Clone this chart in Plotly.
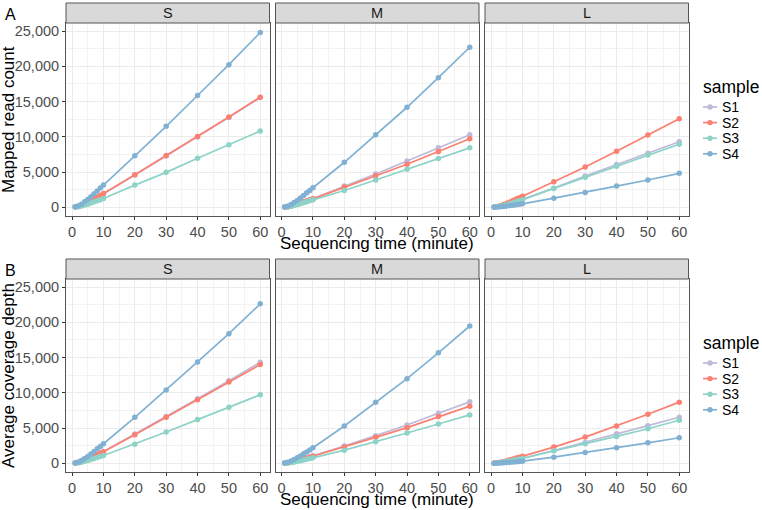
import plotly.graph_objects as go

W, H = 762, 510

time_min = [1, 2, 3, 4, 5, 6, 7, 8, 9, 10, 20, 30, 40, 50, 60]
samples = ["S1", "S2", "S3", "S4"]
facets = ["S", "M", "L"]
colors = {"S1": "#BEBADA", "S2": "#FB8072", "S3": "#8DD3C7", "S4": "#80B1D3"}
y_ticks = [0, 5000, 10000, 15000, 20000, 25000]
y_tick_labels = ["0", "5,000", "10,000", "15,000", "20,000", "25,000"]
x_ticks = [0, 10, 20, 30, 40, 50, 60]

# ---- Panel A: mapped read count ----
reads_S_S1 = [35, 115, 260, 450, 660, 910, 1150, 1400, 1640, 1900, 4560, 7260, 9980, 12750, 15560]
reads_S_S2 = [40, 120, 270, 470, 680, 940, 1190, 1440, 1680, 1950, 4620, 7330, 10050, 12810, 15620]
reads_S_S3 = [25, 75, 170, 300, 430, 600, 760, 920, 1070, 1240, 3140, 4950, 6950, 8860, 10810]
reads_S_S4 = [60, 200, 440, 760, 1100, 1500, 1900, 2320, 2720, 3140, 7290, 11480, 15860, 20240, 24800]

reads_M_S1 = [25, 75, 170, 300, 430, 600, 760, 920, 1070, 1240, 3000, 4710, 6570, 8430, 10290]
reads_M_S2 = [24, 72, 165, 285, 415, 570, 725, 880, 1030, 1190, 2860, 4480, 6100, 7900, 9710]
reads_M_S3 = [20, 63, 145, 250, 370, 500, 640, 780, 910, 1050, 2380, 3860, 5380, 6900, 8430]
reads_M_S4 = [50, 170, 390, 670, 970, 1320, 1680, 2040, 2380, 2760, 6380, 10290, 14190, 18380, 22710]

reads_L_S1 = [23, 70, 160, 275, 400, 550, 700, 840, 980, 1140, 2710, 4430, 6050, 7670, 9290]
reads_L_S2 = [30, 95, 220, 380, 550, 750, 960, 1160, 1350, 1570, 3620, 5710, 7950, 10240, 12570]
reads_L_S3 = [21, 63, 147, 252, 368, 504, 640, 777, 903, 1050, 2670, 4240, 5810, 7430, 8950]
reads_L_S4 = [10, 30, 67, 115, 168, 230, 294, 355, 413, 480, 1290, 2100, 3000, 3860, 4810]

# ---- Panel B: average coverage depth ----
depth_S_S1 = [33, 100, 235, 400, 585, 800, 1020, 1230, 1440, 1670, 4140, 6620, 9140, 11710, 14330]
depth_S_S2 = [32, 97, 227, 390, 567, 780, 990, 1200, 1400, 1620, 4050, 6520, 9000, 11520, 14000]
depth_S_S3 = [22, 66, 154, 264, 385, 528, 670, 814, 946, 1100, 2710, 4430, 6190, 7950, 9710]
depth_S_S4 = [50, 170, 390, 670, 970, 1320, 1680, 2040, 2380, 2760, 6520, 10380, 14380, 18380, 22620]

depth_M_S1 = [21, 63, 147, 252, 368, 504, 640, 777, 903, 1050, 2430, 3900, 5430, 7100, 8710]
depth_M_S2 = [20, 60, 140, 240, 350, 480, 610, 740, 860, 1000, 2290, 3670, 5050, 6620, 8100]
depth_M_S3 = [15, 46, 106, 182, 266, 365, 464, 562, 654, 760, 1860, 3050, 4290, 5570, 6860]
depth_M_S4 = [44, 130, 300, 520, 760, 1040, 1330, 1610, 1890, 2190, 5290, 8670, 12000, 15670, 19480]

depth_L_S1 = [14, 43, 99, 170, 250, 340, 433, 525, 610, 710, 1810, 2950, 4190, 5330, 6520]
depth_L_S2 = [20, 60, 140, 240, 350, 480, 610, 740, 860, 1000, 2290, 3710, 5290, 6950, 8670]
depth_L_S3 = [13, 40, 94, 160, 235, 322, 409, 496, 576, 670, 1760, 2760, 3810, 4900, 6100]
depth_L_S4 = [6, 17, 41, 70, 102, 139, 177, 215, 249, 290, 860, 1520, 2190, 2900, 3620]

rows_data = [
    {"S": [reads_S_S1, reads_S_S2, reads_S_S3, reads_S_S4],
     "M": [reads_M_S1, reads_M_S2, reads_M_S3, reads_M_S4],
     "L": [reads_L_S1, reads_L_S2, reads_L_S3, reads_L_S4]},
    {"S": [depth_S_S1, depth_S_S2, depth_S_S3, depth_S_S4],
     "M": [depth_M_S1, depth_M_S2, depth_M_S3, depth_M_S4],
     "L": [depth_L_S1, depth_L_S2, depth_L_S3, depth_L_S4]},
]
row_titles = ["Mapped read count", "Average coverage depth"]
row_tags = ["A", "B"]

FONT = "Liberation Sans, Arial, sans-serif"
TICK_SIZE = 14.5
TITLE_SIZE = 17

# layout geometry in pixels
col_px = [(66, 269.5), (275.5, 479), (485, 688.5)]
row_plot_px = [(23, 216), (279, 472)]
row_strip_px = [(3, 23), (259, 279)]

fig = go.Figure()
layout = dict(
    width=W, height=H,
    margin=dict(l=0, r=0, t=0, b=0),
    paper_bgcolor="white", plot_bgcolor="white",
    showlegend=False,
    font=dict(family=FONT, size=TICK_SIZE, color="#4D4D4D"),
)
shapes = []
annotations = []

def xfrac(px):
    return px / W

def yfrac(py):
    return 1 - py / H

k = 0
for r in range(2):
    y0p, y1p = row_plot_px[r]
    for c, fac in enumerate(facets):
        k += 1
        xa = "x" if k == 1 else f"x{k}"
        ya = "y" if k == 1 else f"y{k}"
        x0p, x1p = col_px[c]
        layout["xaxis" if k == 1 else f"xaxis{k}"] = dict(
            domain=[xfrac(x0p), xfrac(x1p)], anchor=ya,
            range=[-1.95, 62.95], tickvals=x_ticks, ticktext=[str(v) for v in x_ticks],
            showgrid=True, gridcolor="#EBEBEB", gridwidth=1.1,
            minor=dict(tickvals=[5, 15, 25, 35, 45, 55], showgrid=True, gridcolor="#F2F2F2", gridwidth=0.6, ticks=""),
            zeroline=False, showline=True, mirror=True, linecolor="#555555", linewidth=1,
            ticks="outside", ticklen=3, tickcolor="#333333", tickwidth=1,
            tickfont=dict(family=FONT, size=TICK_SIZE, color="#4D4D4D"),
            fixedrange=True,
        )
        layout["yaxis" if k == 1 else f"yaxis{k}"] = dict(
            domain=[yfrac(y1p), yfrac(y0p)], anchor=xa,
            range=[-1245, 26150], tickvals=y_ticks,
            ticktext=y_tick_labels if c == 0 else [""] * len(y_ticks),
            showgrid=True, gridcolor="#EBEBEB", gridwidth=1.1,
            minor=dict(tickvals=[2500, 7500, 12500, 17500, 22500], showgrid=True, gridcolor="#F2F2F2", gridwidth=0.6, ticks=""),
            zeroline=False, showline=True, mirror=True, linecolor="#555555", linewidth=1,
            ticks="outside" if c == 0 else "", ticklen=3, tickcolor="#333333", tickwidth=1,
            tickfont=dict(family=FONT, size=TICK_SIZE, color="#4D4D4D"),
            fixedrange=True,
        )
        series = rows_data[r][fac]
        for s_name, vals in zip(samples, series):
            fig.add_trace(go.Scatter(
                x=time_min, y=vals, mode="lines+markers", name=s_name,
                line=dict(color=colors[s_name], width=1.7),
                marker=dict(color=colors[s_name], size=5.5),
                xaxis=xa, yaxis=ya, showlegend=False,
            ))
        # strip
        sy0, sy1 = row_strip_px[r]
        shapes.append(dict(type="rect", xref="paper", yref="paper",
                           x0=xfrac(x0p), x1=xfrac(x1p), y0=yfrac(sy1), y1=yfrac(sy0),
                           fillcolor="#D9D9D9", line=dict(color="#555555", width=1), layer="above"))
        annotations.append(dict(text=fac, xref="paper", yref="paper",
                                x=xfrac((x0p + x1p) / 2), y=yfrac((sy0 + sy1) / 2),
                                showarrow=False, xanchor="center", yanchor="middle",
                                font=dict(family=FONT, size=14.5, color="#1A1A1A")))
    # axis titles
    annotations.append(dict(text="Sequencing time (minute)", xref="paper", yref="paper",
                            x=xfrac((col_px[0][0] + col_px[2][1]) / 2), y=yfrac(y1p + 27.5),
                            showarrow=False, xanchor="center", yanchor="middle",
                            font=dict(family=FONT, size=TITLE_SIZE, color="#000000")))
    annotations.append(dict(text=row_titles[r], xref="paper", yref="paper",
                            x=xfrac(8.5), y=yfrac((y0p + y1p) / 2), textangle=-90,
                            showarrow=False, xanchor="center", yanchor="middle",
                            font=dict(family=FONT, size=TITLE_SIZE, color="#000000")))
    annotations.append(dict(text=row_tags[r], xref="paper", yref="paper",
                            x=xfrac(3), y=yfrac(row_strip_px[r][0] + 11),
                            showarrow=False, xanchor="left", yanchor="middle",
                            font=dict(family=FONT, size=16, color="#000000")))
    # legend (drawn as a key box)
    leg_title_y = [87, 343][r]
    leg_item_y0 = [107, 363][r]
    annotations.append(dict(text="sample", xref="paper", yref="paper",
                            x=xfrac(701), y=yfrac(leg_title_y),
                            showarrow=False, xanchor="left", yanchor="middle",
                            font=dict(family=FONT, size=17.5, color="#000000")))
    for i, s_name in enumerate(samples):
        yy = leg_item_y0 + i * 15.6
        shapes.append(dict(type="line", xref="paper", yref="paper",
                           x0=xfrac(703), x1=xfrac(717), y0=yfrac(yy), y1=yfrac(yy),
                           line=dict(color=colors[s_name], width=1.7)))
        shapes.append(dict(type="circle", xref="paper", yref="paper",
                           x0=xfrac(707.3), x1=xfrac(712.7), y0=yfrac(yy + 2.7), y1=yfrac(yy - 2.7),
                           fillcolor=colors[s_name], line=dict(width=0)))
        annotations.append(dict(text=s_name, xref="paper", yref="paper",
                                x=xfrac(720), y=yfrac(yy),
                                showarrow=False, xanchor="left", yanchor="middle",
                                font=dict(family=FONT, size=14, color="#000000")))

layout["shapes"] = shapes
layout["annotations"] = annotations
fig.update_layout(**layout)
fig.write_html("out.html")
